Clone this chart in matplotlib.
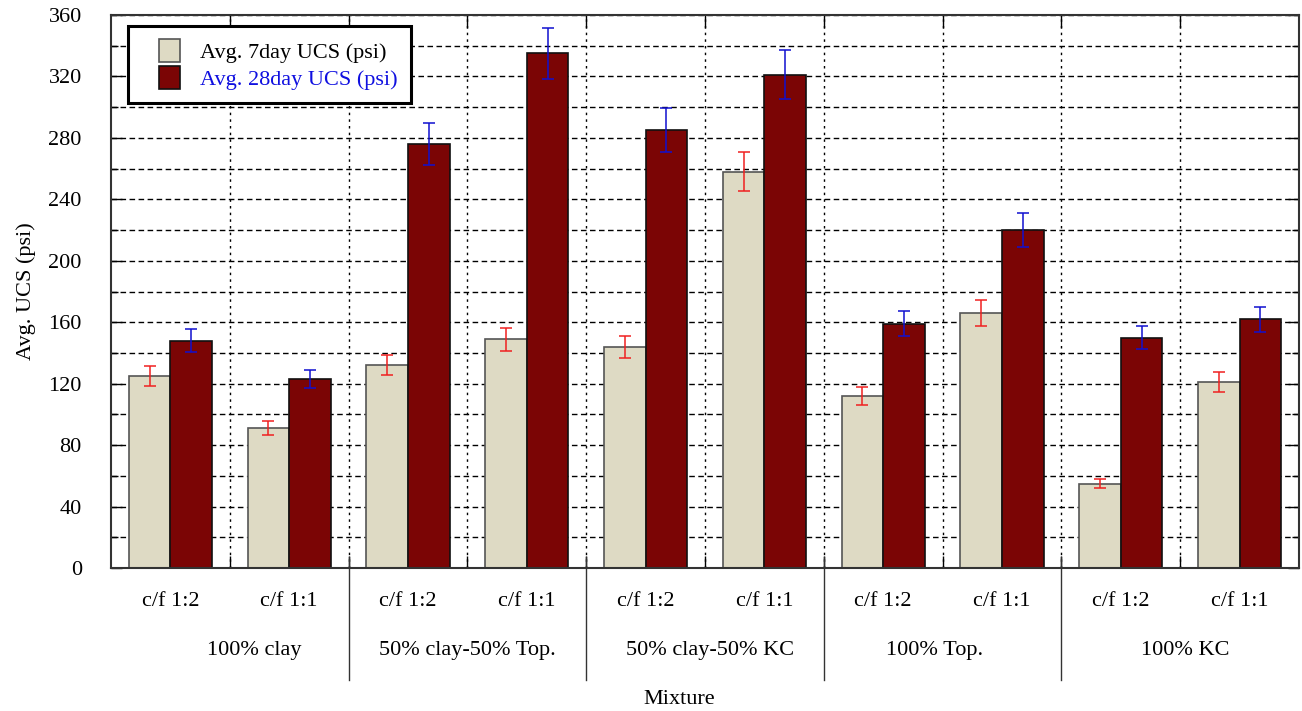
import numpy as np
import matplotlib
matplotlib.use("Agg")
import matplotlib.pyplot as plt
from matplotlib.patches import Patch, Rectangle
from matplotlib.legend_handler import HandlerPatch
from matplotlib.transforms import blended_transform_factory

plt.rcParams['font.family'] = ['Liberation Serif', 'DejaVu Serif']

# ---- data ----
mixtures = ["100% clay", "50% clay-50% Top.", "50% clay-50% KC", "100% Top.", "100% KC"]
ratios = ["c/f 1:2", "c/f 1:1"]
ucs_7day = [125, 91, 132, 149, 144, 258, 112, 166, 55, 121]
err_7day = [6.3, 4.5, 6.6, 7.5, 7.0, 12.8, 5.6, 8.2, 2.7, 6.4]
ucs_28day = [148, 123, 276, 335, 285, 321, 159, 220, 150, 162]
err_28day = [7.4, 6.0, 13.7, 16.8, 14.2, 16.0, 8.0, 11.0, 7.7, 8.2]

FS = 16

# ---- figure ----
fig = plt.figure(figsize=(13.02, 7.11), dpi=100)
ax = fig.add_axes([111/1302, 1 - 568/711, 1188/1302, 553/711])

n = len(ucs_7day)
x = np.arange(n)
w = 0.35
c7 = '#DEDAC4'
c28 = '#7B0505'
e7 = '#555555'
e28 = '#111111'

ax.set_axisbelow(True)
ax.bar(x - w/2, ucs_7day, w, color=c7, edgecolor=e7, linewidth=1.2, zorder=2)
ax.bar(x + w/2, ucs_28day, w, color=c28, edgecolor=e28, linewidth=1.2, zorder=2)
ax.errorbar(x - w/2, ucs_7day, yerr=err_7day, fmt='none', ecolor='#F02020',
            elinewidth=1.1, capsize=4, capthick=1.1, zorder=3)
ax.errorbar(x + w/2, ucs_28day, yerr=err_28day, fmt='none', ecolor='#1010D0',
            elinewidth=1.1, capsize=4, capthick=1.1, zorder=3)

ax.set_xlim(-0.5, n - 0.5)
ax.set_ylim(0, 360)

# y ticks
ax.set_yticks(np.arange(0, 361, 40))
ax.set_yticks(np.arange(20, 360, 40), minor=True)
ax.tick_params(axis='y', which='both', direction='in', left=True, right=True,
               labelsize=FS, pad=21)
ax.tick_params(axis='y', which='major', length=8, width=1)
ax.tick_params(axis='y', which='minor', length=5, width=1)

# x ticks: boundaries between clusters (unlabelled), labels at cluster centres
ax.set_xticks(np.arange(0.5, n - 0.5, 1.0))
ax.set_xticklabels([])
ax.tick_params(axis='x', which='major', direction='in', top=True, bottom=True,
               length=9, width=1)
ax.set_xticks(x, minor=True)
ax.set_xticklabels(ratios * len(mixtures), minor=True)
ax.tick_params(axis='x', which='minor', length=0, labelsize=FS, pad=17)

# grid
for yv in np.arange(20, 361, 20):
    ax.axhline(yv, color='black', lw=1.0, ls=(0, (4, 2.5)), zorder=0)
for xv in np.arange(0.5, n - 0.5, 1.0):
    ax.axvline(xv, color='black', lw=1.0, ls=(0, (1.8, 3)), zorder=0)

for sp in ax.spines.values():
    sp.set_color('#333333')
    sp.set_linewidth(1.5)

# mixture group labels and separators
tr = blended_transform_factory(ax.transData, ax.transAxes)
label_shift = [0.21, 0.0, 0.04, -0.07, 0.04]
for i, name in enumerate(mixtures):
    ax.text(2*i + 0.5 + label_shift[i], -0.15, name, transform=tr,
            ha='center', va='center', fontsize=FS)
for b in range(1, len(mixtures)):
    ax.plot([2*b - 0.5, 2*b - 0.5], [0.02, -0.203], transform=tr,
            color='#333333', lw=1.0, clip_on=False, zorder=4)

ax.set_ylabel("Avg. UCS (psi)", fontsize=FS)
ax.yaxis.set_label_coords(-75/1188, 0.5)
fig.text(679/1302, 1 - 699/711, "Mixture", ha='center', va='center', fontsize=FS)


# legend: square swatches sitting at the right end of a wider handle slot
def square_swatch(legend, orig_handle, xdescent, ydescent, width, height, fontsize):
    side = height * 0.9
    return Rectangle((-xdescent + width - side, -ydescent), side, height)


handles = [Patch(facecolor=c7, edgecolor=e7, linewidth=1.2),
           Patch(facecolor=c28, edgecolor=e28, linewidth=1.2)]
leg = ax.legend(handles, ["Avg. 7day UCS (psi)", "Avg. 28day UCS (psi)"],
                loc='upper left', bbox_to_anchor=(17/1188, (568-26)/553),
                borderaxespad=0, fontsize=FS, fancybox=False, framealpha=1,
                edgecolor='black', handlelength=1.75, handleheight=1.22,
                handletextpad=0.9, borderpad=0.6, labelspacing=0.1,
                handler_map={Patch: HandlerPatch(patch_func=square_swatch)})
leg.get_frame().set_linewidth(2.2)
leg.get_texts()[1].set_color('#1010E0')
leg.set_zorder(5)

fig.savefig("out.png", dpi=100)
